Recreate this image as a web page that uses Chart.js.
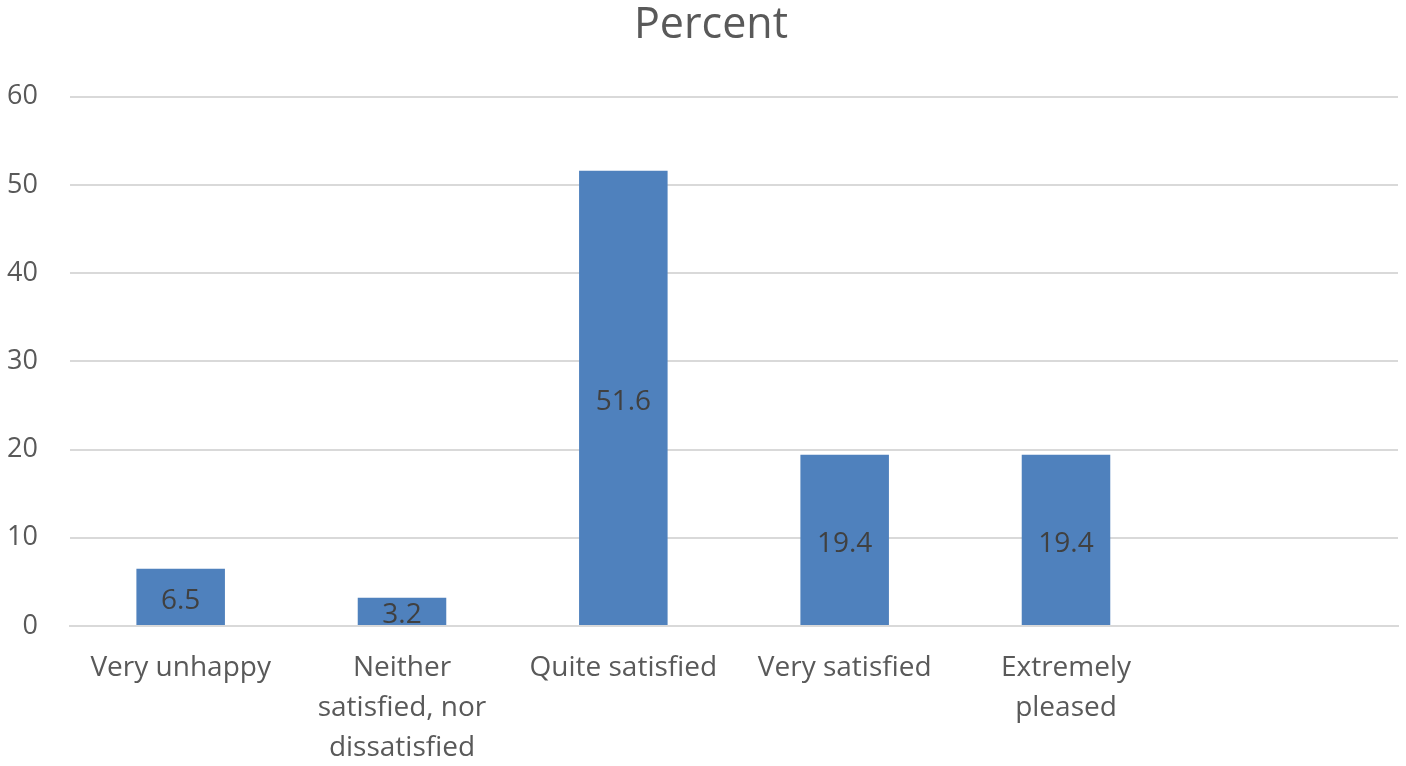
<!DOCTYPE html>
<html>
<head>
<meta charset="utf-8">
<script src="https://cdn.jsdelivr.net/npm/chart.js@4"></script>
<style>
  html, body { margin: 0; padding: 0; background: #fff; }
  #wrap { width: 1406px; height: 766px; }
</style>
</head>
<body>
<div id="wrap"><canvas id="chart" width="1406" height="766"></canvas></div>
<script>
'use strict';

const categories = [
  'Very unhappy',
  ['Neither', 'satisfied, nor', 'dissatisfied'],
  'Quite satisfied',
  'Very satisfied',
  ['Extremely', 'pleased'],
  ''
];
const percentValues = [6.5, 3.2, 51.6, 19.4, 19.4, null];
const yTicks = [0, 10, 20, 30, 40, 50, 60];

const FONT = '"Open Sans", "Segoe UI", sans-serif';

// value labels centred in each bar, like the office default
const centerLabels = {
  id: 'centerLabels',
  afterLayout(chart) {
    // let the y tick labels use the left padding too (title stays shifted right)
    chart.scales.y.left = 0;
  },
  afterDatasetsDraw(chart) {
    const ctx = chart.ctx;
    const meta = chart.getDatasetMeta(0);
    ctx.save();
    ctx.font = '28px ' + FONT;
    ctx.fillStyle = '#404040';
    ctx.textAlign = 'center';
    ctx.textBaseline = 'middle';
    meta.data.forEach((bar, i) => {
      const v = percentValues[i];
      if (v == null) return;
      const p = bar.getProps(['x', 'y', 'base'], true);
      ctx.fillText(String(v), p.x, (p.y + p.base) / 2 + 4);
    });
    ctx.restore();
  }
};

new Chart(document.getElementById('chart'), {
  type: 'bar',
  data: {
    labels: categories,
    datasets: [{
      label: 'Percent',
      data: percentValues,
      backgroundColor: '#4F81BD',
      categoryPercentage: 0.4,
      barPercentage: 1.0
    }]
  },
  options: {
    responsive: false,
    animation: false,
    layout: { padding: { left: 24, right: 8, top: 0, bottom: 0 } },
    plugins: {
      legend: { display: false },
      tooltip: { enabled: false },
      title: {
        display: true,
        text: 'Percent',
        color: '#595959',
        font: { family: FONT, size: 43, weight: 'normal' },
        padding: { top: 0, bottom: 45 }
      }
    },
    scales: {
      x: {
        grid: { display: false, drawTicks: false },
        border: { color: '#D9D9D9', width: 2 },
        ticks: {
          color: '#595959',
          font: { family: FONT, size: 28, lineHeight: 1.43 },
          padding: 22,
          maxRotation: 0,
          autoSkip: false
        },
        afterFit(scale) { scale.height = 140; }
      },
      y: {
        min: 0,
        max: 60,
        afterBuildTicks(scale) { scale.ticks = yTicks.map(v => ({ value: v })); },
        grid: { color: '#D9D9D9', lineWidth: 2, drawTicks: false },
        border: { display: false },
        ticks: {
          color: '#595959',
          font: { family: FONT, size: 27 },
          padding: 32
        },
        afterFit(scale) { scale.width = 46; }
      }
    }
  },
  plugins: [centerLabels]
});
</script>
</body>
</html>
